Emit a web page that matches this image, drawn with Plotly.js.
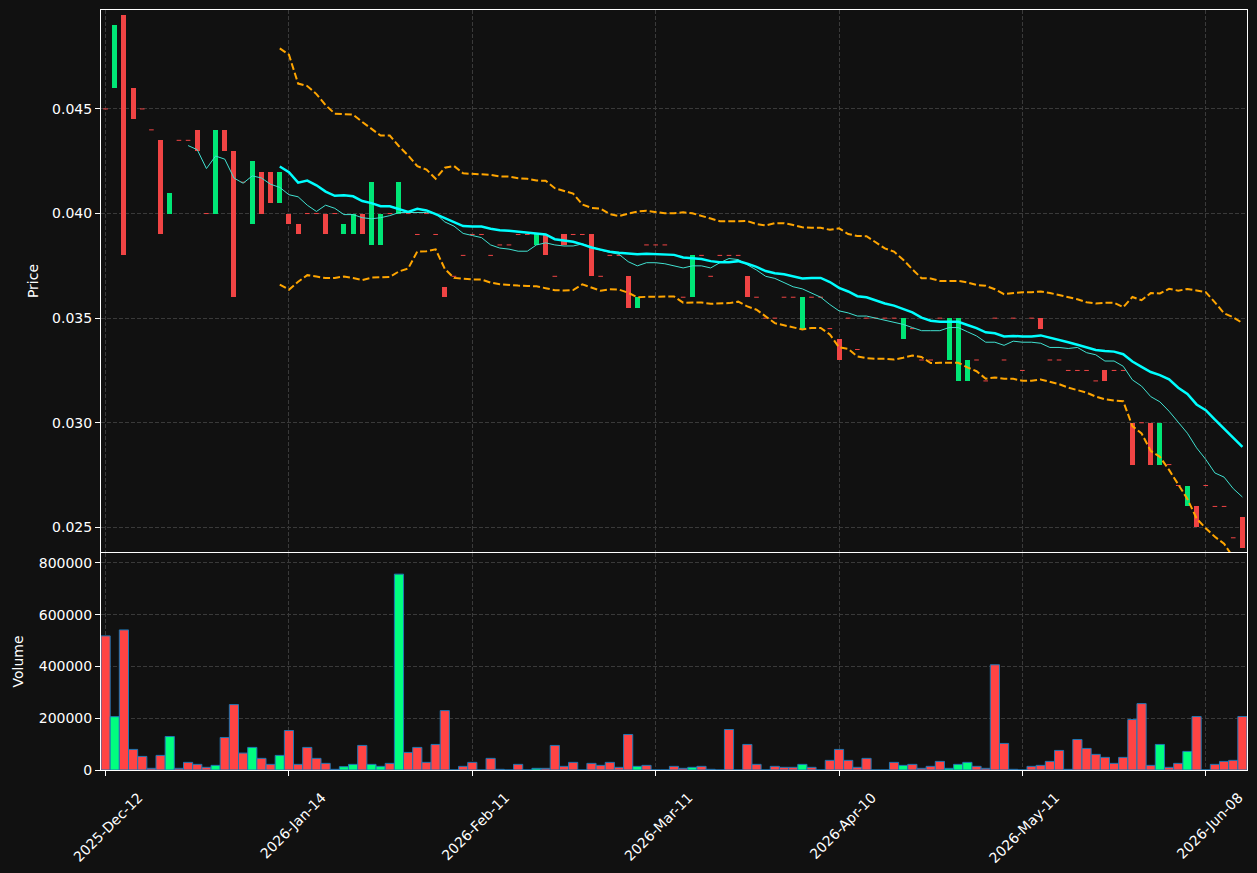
<!DOCTYPE html>
<html><head><meta charset="utf-8">
<script src="https://cdn.plot.ly/plotly-3.0.1.min.js"></script>
<style>html,body{margin:0;padding:0;background:#111111;}#chart{width:1257px;height:873px;}</style>
</head><body><div id="chart"></div>
<script>
// ---- data ----
const tickLabels = ['2025-Dec-12','2026-Jan-14','2026-Feb-11','2026-Mar-11','2026-Apr-10','2026-May-11','2026-Jun-08'];
const tickIndex = [0,20,40,60,80,100,120];

const opens = [
0.045,0.046,0.0495,0.046,0.045,0.044,0.0435,0.040,0.0435,0.0435,
0.044,0.040,0.040,0.044,0.043,0.0415,0.0395,0.042,0.042,0.0405,
0.040,0.0395,0.040,0.040,0.040,0.040,0.039,0.039,0.040,0.0385,
0.0385,0.040,0.040,0.040,0.039,0.040,0.039,0.0365,0.037,0.038,
0.039,0.039,0.038,0.0385,0.0385,0.039,0.039,0.0385,0.039,0.037,
0.039,0.039,0.039,0.039,0.037,0.038,0.038,0.037,0.0355,0.0385,
0.0385,0.0385,0.038,0.036,0.036,0.038,0.037,0.038,0.038,0.038,
0.037,0.036,0.035,0.035,0.036,0.036,0.0345,0.036,0.036,0.0345,
0.034,0.035,0.0335,0.035,0.035,0.035,0.035,0.034,0.0345,0.033,
0.033,0.035,0.033,0.032,0.032,0.033,0.032,0.035,0.033,0.035,
0.0325,0.035,0.035,0.033,0.033,0.0325,0.0325,0.0325,0.032,0.0325,
0.0325,0.0325,0.030,0.030,0.030,0.028,0.028,0.027,0.026,0.026,
0.027,0.026,0.026,0.0245,0.0255];

const closes = [
0.045,0.049,0.038,0.0445,0.045,0.044,0.039,0.041,0.0435,0.0435,
0.043,0.040,0.044,0.043,0.036,0.0415,0.0425,0.040,0.0405,0.042,
0.0395,0.039,0.040,0.040,0.039,0.040,0.0395,0.040,0.039,0.0415,
0.040,0.040,0.0415,0.040,0.039,0.040,0.039,0.036,0.037,0.038,
0.039,0.039,0.038,0.0385,0.0385,0.039,0.039,0.039,0.038,0.037,
0.0385,0.039,0.039,0.037,0.037,0.038,0.038,0.0355,0.036,0.0385,
0.0385,0.0385,0.038,0.036,0.038,0.038,0.037,0.038,0.038,0.038,
0.036,0.036,0.035,0.035,0.036,0.036,0.036,0.036,0.036,0.0345,
0.033,0.035,0.0335,0.035,0.035,0.035,0.035,0.035,0.0345,0.033,
0.033,0.035,0.035,0.035,0.033,0.033,0.032,0.035,0.033,0.035,
0.0325,0.035,0.0345,0.033,0.033,0.0325,0.0325,0.0325,0.032,0.032,
0.0325,0.0325,0.028,0.030,0.028,0.030,0.028,0.027,0.027,0.025,
0.027,0.026,0.026,0.0245,0.024];

const volumes = [
518000,206000,541000,79500,52500,6400,56400,129500,6400,29500,
21800,10300,17900,125600,252600,65400,87200,44900,21800,56400,
152600,21800,87200,44900,25600,2600,12800,21800,94900,21800,
14100,25600,756400,67900,87200,29500,98700,229500,0,14100,
29500,0,44900,2600,0,21800,0,6400,6400,94900,
14100,29500,0,25600,17900,29500,10300,137200,14100,17900,
0,0,14100,6400,10300,14100,2600,0,156400,0,
98700,21800,0,14100,10300,10300,21800,10300,0,37200,
79500,37200,10300,44900,0,0,29500,17900,21800,6400,
14100,33300,6400,21800,29500,14100,6400,406400,102600,2600,
0,14100,17900,33300,75600,2600,117900,83300,60300,48700,
25600,48700,194900,256400,17900,98700,10300,25600,71800,206400,
0,21800,33300,37200,206400];

// ---- derived indicators (rolling mean / std of closes) ----
function rolling(arr, n, fn){
  return arr.map((_, i) => i < n - 1 ? null : fn(arr.slice(i - n + 1, i + 1)));
}
const mean = a => a.reduce((s, v) => s + v, 0) / a.length;
const pstd = a => { const m = mean(a); return Math.sqrt(a.reduce((s, v) => s + (v - m) * (v - m), 0) / a.length); };
const ma10 = rolling(closes, 10, mean);
const ma20 = rolling(closes, 20, mean);
const sd20 = rolling(closes, 20, pstd);
const upper = ma20.map((m, i) => m === null ? null : m + 2 * sd20[i]);
const lower = ma20.map((m, i) => m === null ? null : m - 2 * sd20[i]);

const idx = closes.map((_, i) => i);
const RED = '#f04444', GREEN = '#00e676', VRED = '#ff4444', VGREEN = '#00ff7f';

const upI = [], dnI = [], flatI = [];
idx.forEach(i => { if (closes[i] > opens[i]) upI.push(i); else if (closes[i] < opens[i]) dnI.push(i); else flatI.push(i); });

const bodyTrace = (ids, color) => ({
  type: 'bar', xaxis: 'x', yaxis: 'y',
  x: ids, base: ids.map(i => Math.min(opens[i], closes[i])),
  y: ids.map(i => Math.abs(closes[i] - opens[i])),
  width: 0.55, marker: { color: color, line: { width: 0 } }, hoverinfo: 'skip'
});

const traces = [
  bodyTrace(upI, GREEN),
  bodyTrace(dnI, RED),
  { type: 'scatter', mode: 'markers', xaxis: 'x', yaxis: 'y', x: flatI, y: flatI.map(i => closes[i]),
    marker: { symbol: 'line-ew', size: 3.3, color: RED, line: { color: RED, width: 1 } }, hoverinfo: 'skip' },
  { type: 'scatter', mode: 'lines', xaxis: 'x', yaxis: 'y', x: idx, y: ma10, line: { color: '#40e0d0', width: 1 } },
  { type: 'scatter', mode: 'lines', xaxis: 'x', yaxis: 'y', x: idx, y: ma20, line: { color: '#00ffff', width: 2.5 } },
  { type: 'scatter', mode: 'lines', xaxis: 'x', yaxis: 'y', x: idx, y: upper, line: { color: '#ffa500', width: 2, dash: '7px,3px' } },
  { type: 'scatter', mode: 'lines', xaxis: 'x', yaxis: 'y', x: idx, y: lower, line: { color: '#ffa500', width: 2, dash: '7px,3px' } },
  { type: 'bar', xaxis: 'x2', yaxis: 'y2', x: idx, y: volumes, width: 1,
    marker: { color: idx.map(i => closes[i] > opens[i] ? VGREEN : VRED), line: { color: '#1f77b4', width: 1 } } }
];

const gridCol = '#3a3a3a';
const axCommon = { showline: true, mirror: true, linecolor: '#ffffff', linewidth: 1, zeroline: false,
  gridcolor: gridCol, gridwidth: 1, griddash: '4px,2px', tickcolor: '#ffffff', ticklen: 5,
  tickfont: { family: 'DejaVu Sans', size: 14, color: '#ffffff' } };

const layout = {
  width: 1257, height: 873,
  paper_bgcolor: '#111111', plot_bgcolor: '#111111',
  margin: { l: 101, r: 10, t: 10, b: 103 },
  showlegend: false, barmode: 'overlay', bargap: 0,
  font: { family: 'DejaVu Sans', size: 14, color: '#ffffff' },
  xaxis: Object.assign({}, axCommon, { domain: [0, 1], anchor: 'y', range: [-0.5, 124.5],
    tickmode: 'array', tickvals: tickIndex, showticklabels: false, ticks: '' }),
  yaxis: Object.assign({}, axCommon, { domain: [0.2868, 1], anchor: 'x', range: [0.02382, 0.04973],
    tickmode: 'array', tickvals: [0.025, 0.030, 0.035, 0.040, 0.045], tickformat: '.3f', ticks: 'outside',
    title: { text: 'Price', font: { family: 'DejaVu Sans', size: 14, color: '#ffffff' }, standoff: 10 } }),
  xaxis2: Object.assign({}, axCommon, { domain: [0, 1], anchor: 'y2', matches: 'x', range: [-0.5, 124.5],
    tickmode: 'array', tickvals: tickIndex, ticktext: tickLabels, tickangle: -45, ticks: 'outside',
    ticklabelshift: 33, ticklabelstandoff: 8 }),
  yaxis2: Object.assign({}, axCommon, { domain: [0, 0.2855], anchor: 'x2', range: [0, 838000],
    tickmode: 'array', tickvals: [0, 200000, 400000, 600000, 800000], tickformat: 'd', ticks: 'outside',
    title: { text: 'Volume', font: { family: 'DejaVu Sans', size: 14, color: '#ffffff' }, standoff: 11 } })
};

Plotly.newPlot('chart', traces, layout, { displayModeBar: false, staticPlot: true });
</script></body></html>
